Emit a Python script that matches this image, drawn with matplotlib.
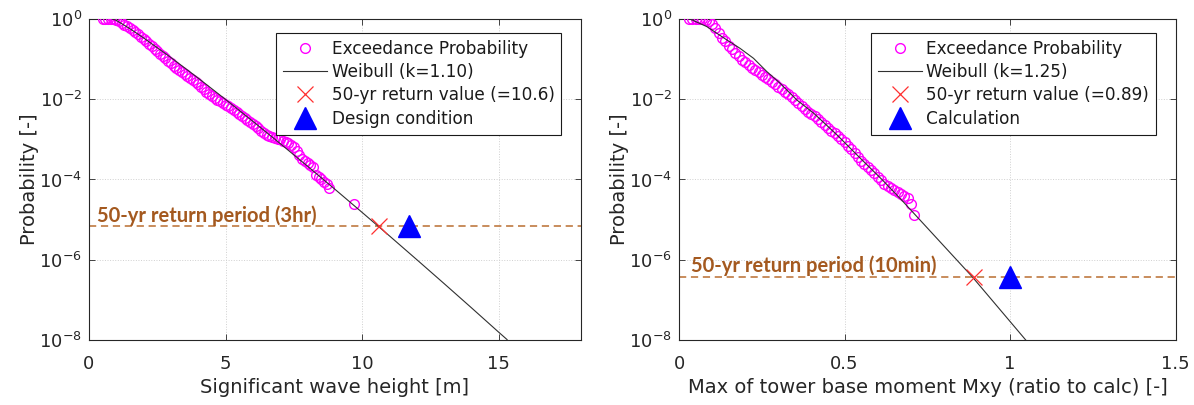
import numpy as np
import matplotlib
matplotlib.use("Agg")
import matplotlib.pyplot as plt

plt.rcParams['font.family'] = ['DejaVu Sans']
plt.rcParams['mathtext.fontset'] = 'dejavusans'

# ---------------- Significant wave height (3-hr) ----------------
hs_values = [0.5, 0.6, 0.7, 0.8, 0.9, 1.0, 1.1, 1.2, 1.3, 1.4, 1.5, 1.6, 1.7, 1.8,
             1.9, 2.0, 2.1, 2.2, 2.3, 2.4, 2.5, 2.6, 2.7, 2.8, 2.9, 3.0, 3.1, 3.2,
             3.3, 3.4, 3.5, 3.6, 3.7, 3.8, 3.9, 4.0, 4.1, 4.2, 4.3, 4.4, 4.5, 4.6,
             4.7, 4.8, 4.9, 5.0, 5.1, 5.2, 5.3, 5.4, 5.5, 5.6, 5.7, 5.8, 5.9, 6.0,
             6.1, 6.2, 6.3, 6.4, 6.5, 6.6, 6.7, 6.8, 6.9, 7.0, 7.1, 7.2, 7.3, 7.4,
             7.5, 7.6, 7.7, 7.8, 7.9, 8.0, 8.1, 8.2, 8.3, 8.4, 8.5, 8.6, 8.7, 8.8,
             9.7]
# exceedance probability, as powers of ten
hs_exceed_log10 = [0.0, 0.0, -0.001, -0.003, -0.008, -0.02, -0.05, -0.09, -0.14, -0.18,
                   -0.22, -0.27, -0.32, -0.38, -0.44, -0.50, -0.56, -0.62, -0.68, -0.74,
                   -0.80, -0.86, -0.92, -0.98, -1.04, -1.10, -1.16, -1.21, -1.26, -1.32,
                   -1.37, -1.42, -1.47, -1.52, -1.58, -1.63, -1.69, -1.75, -1.81, -1.86,
                   -1.91, -1.96, -2.01, -2.05, -2.10, -2.14, -2.18, -2.22, -2.27, -2.31,
                   -2.36, -2.42, -2.47, -2.52, -2.57, -2.62, -2.67, -2.72, -2.78, -2.84,
                   -2.88, -2.91, -2.94, -2.96, -2.98, -3.00, -3.03, -3.06, -3.09, -3.13,
                   -3.19, -3.28, -3.40, -3.48, -3.54, -3.60, -3.65, -3.70, -3.90, -3.95,
                   -4.00, -4.05, -4.12, -4.22, -4.60]
hs_fit_x = [0.85, 1.0, 1.5, 2.0, 3.0, 4.0, 5.0, 6.0, 7.0, 8.0, 9.0, 10.0, 11.0, 12.0,
            13.0, 14.0, 15.0, 15.3]
hs_fit_log10 = [0.0, -0.034, -0.242, -0.472, -0.961, -1.475, -2.006, -2.551, -3.106,
                -3.670, -4.243, -4.823, -5.408, -6.000, -6.597, -7.20, -7.81, -7.99]
hs_return_value = 10.6
hs_design = 11.7
prob_50yr_3hr = 6.85e-6

# ---------------- Tower base moment (10-min) ----------------
mxy_values = [0.03, 0.04, 0.05, 0.06, 0.07, 0.08, 0.09, 0.10, 0.11, 0.12, 0.13, 0.14,
              0.15, 0.16, 0.17, 0.18, 0.19, 0.20, 0.21, 0.22, 0.23, 0.24, 0.25, 0.26,
              0.27, 0.28, 0.29, 0.30, 0.31, 0.32, 0.33, 0.34, 0.35, 0.36, 0.37, 0.38,
              0.39, 0.40, 0.41, 0.42, 0.43, 0.44, 0.45, 0.46, 0.47, 0.48, 0.49, 0.50,
              0.51, 0.52, 0.53, 0.54, 0.55, 0.56, 0.57, 0.58, 0.59, 0.60, 0.61, 0.62,
              0.63, 0.64, 0.65, 0.66, 0.67, 0.68, 0.69, 0.70, 0.71]
mxy_exceed_log10 = [0.0, 0.0, -0.001, -0.003, -0.007, -0.02, -0.05, -0.12, -0.22, -0.36,
                    -0.47, -0.56, -0.67, -0.76, -0.85, -0.93, -1.01, -1.08, -1.15, -1.22,
                    -1.28, -1.33, -1.39, -1.44, -1.50, -1.57, -1.63, -1.69, -1.75, -1.81,
                    -1.88, -1.95, -2.02, -2.09, -2.16, -2.24, -2.31, -2.37, -2.43, -2.49,
                    -2.56, -2.64, -2.71, -2.78, -2.85, -2.92, -2.99, -3.07, -3.16, -3.25,
                    -3.34, -3.44, -3.53, -3.62, -3.69, -3.76, -3.84, -3.93, -4.02, -4.10,
                    -4.16, -4.21, -4.27, -4.31, -4.35, -4.40, -4.45, -4.60, -4.89]
mxy_fit_x = [0.033, 0.084, 0.144, 0.184, 0.225, 0.265, 0.305, 0.356, 0.407, 0.476,
             0.545, 0.614, 0.672, 0.885, 1.047]
mxy_fit_log10 = [0.0, -0.19, -0.52, -0.73, -0.98, -1.31, -1.60, -2.02, -2.35, -2.88,
                 -3.45, -4.01, -4.51, -6.42, -8.0]
mxy_return_value = 0.89
mxy_calc = 1.0
prob_50yr_10min = 3.8e-7

y_ticks = [1e-8, 1e-6, 1e-4, 1e-2, 1e0]
y_ticklabels = [r'$\mathregular{10^{-8}}$', r'$\mathregular{10^{-6}}$',
                r'$\mathregular{10^{-4}}$', r'$\mathregular{10^{-2}}$',
                r'$\mathregular{10^{0}}$']

AX_COLOR = '#262626'
BROWN_TXT = '#a4591f'
BROWN_LINE = '#c4834f'


def draw_panel(ax, xs, ylog, fit_x, fit_log, rv, rp_prob, marker_x, k_text,
               rv_text, marker_text, xlim, xticks, xticklabels, xlabel,
               period_text, text_x, text_y):
    ax.set_yscale('log')
    ax.set_xlim(*xlim)
    ax.set_ylim(1e-8, 1.0)

    ax.axhline(rp_prob, color=BROWN_LINE, lw=1.3, dashes=(4, 2.6), zorder=1)

    ax.plot(xs, [10.0 ** v for v in ylog], linestyle='none', marker='o',
            markersize=7, markerfacecolor='none', markeredgecolor='#ff00ff',
            markeredgewidth=1.0, label='Exceedance Probability', zorder=3)
    ax.plot(fit_x, [10.0 ** v for v in fit_log], color='#303030', lw=0.8,
            label=k_text, zorder=4)
    ax.plot([rv], [rp_prob], linestyle='none', marker='x', markersize=12,
            markeredgewidth=0.9, color='#ff3030', label=rv_text, zorder=5)
    ax.plot([marker_x], [rp_prob], linestyle='none', marker='^', markersize=16,
            color='#0000ff', markeredgecolor='#0000ff', label=marker_text, zorder=5)

    ax.text(text_x, text_y, period_text, color=BROWN_TXT, fontsize=14.5,
            fontweight='bold', family=['Lato', 'DejaVu Sans'], va='center',
            ha='left', zorder=6)

    ax.set_xticks(xticks)
    ax.set_xticklabels(xticklabels)
    ax.set_yticks(y_ticks)
    ax.set_yticklabels(y_ticklabels)
    ax.yaxis.set_minor_locator(matplotlib.ticker.NullLocator())
    ax.tick_params(which='both', direction='in', top=True, right=True,
                   length=4, width=0.6, colors=AX_COLOR, labelsize=13,
                   labelcolor=AX_COLOR)
    ax.tick_params(axis='x', pad=10.5)
    ax.tick_params(axis='y', pad=5)
    ax.grid(True, which='major', color='#d0d0d0', lw=0.7, linestyle=':')
    ax.set_axisbelow(True)
    for sp in ax.spines.values():
        sp.set_color(AX_COLOR)
        sp.set_linewidth(0.8)

    ax.set_xlabel(xlabel, fontsize=14, color=AX_COLOR, labelpad=4)
    ax.set_ylabel('Probability [-]', fontsize=14, color=AX_COLOR, labelpad=0)

    leg = ax.legend(loc='upper right', bbox_to_anchor=(0.96, 0.957),
                    fontsize=12.2, numpoints=1, handlelength=2.6,
                    handletextpad=0.25, borderpad=0.4, labelspacing=0.32,
                    borderaxespad=0.0, fancybox=False, framealpha=1.0)
    leg.get_frame().set_edgecolor('#1a1a1a')
    leg.get_frame().set_linewidth(0.8)
    leg.set_zorder(10)
    for t in leg.get_texts():
        t.set_color('#1a1a1a')


fig = plt.figure(figsize=(11.94, 4.05), dpi=100)
ax1 = fig.add_axes([0.0745, 0.1605, 0.412, 0.7926])
ax2 = fig.add_axes([0.5687, 0.1605, 0.416, 0.7926])

draw_panel(ax1, hs_values, hs_exceed_log10, hs_fit_x, hs_fit_log10,
           hs_return_value, prob_50yr_3hr, hs_design,
           'Weibull (k=1.10)', '50-yr return value (=10.6)', 'Design condition',
           (0, 18), [0, 5, 10, 15], ['0', '5', '10', '15'],
           'Significant wave height [m]', '50-yr return period (3hr)',
           0.3, 1.25e-5)

draw_panel(ax2, mxy_values, mxy_exceed_log10, mxy_fit_x, mxy_fit_log10,
           mxy_return_value, prob_50yr_10min, mxy_calc,
           'Weibull (k=1.25)', '50-yr return value (=0.89)', 'Calculation',
           (0, 1.5), [0, 0.5, 1, 1.5], ['0', '0.5', '1', '1.5'],
           'Max of tower base moment Mxy (ratio to calc) [-]',
           '50-yr return period (10min)', 0.035, 7.0e-7)

fig.savefig('out.png', dpi=100, facecolor='white')
